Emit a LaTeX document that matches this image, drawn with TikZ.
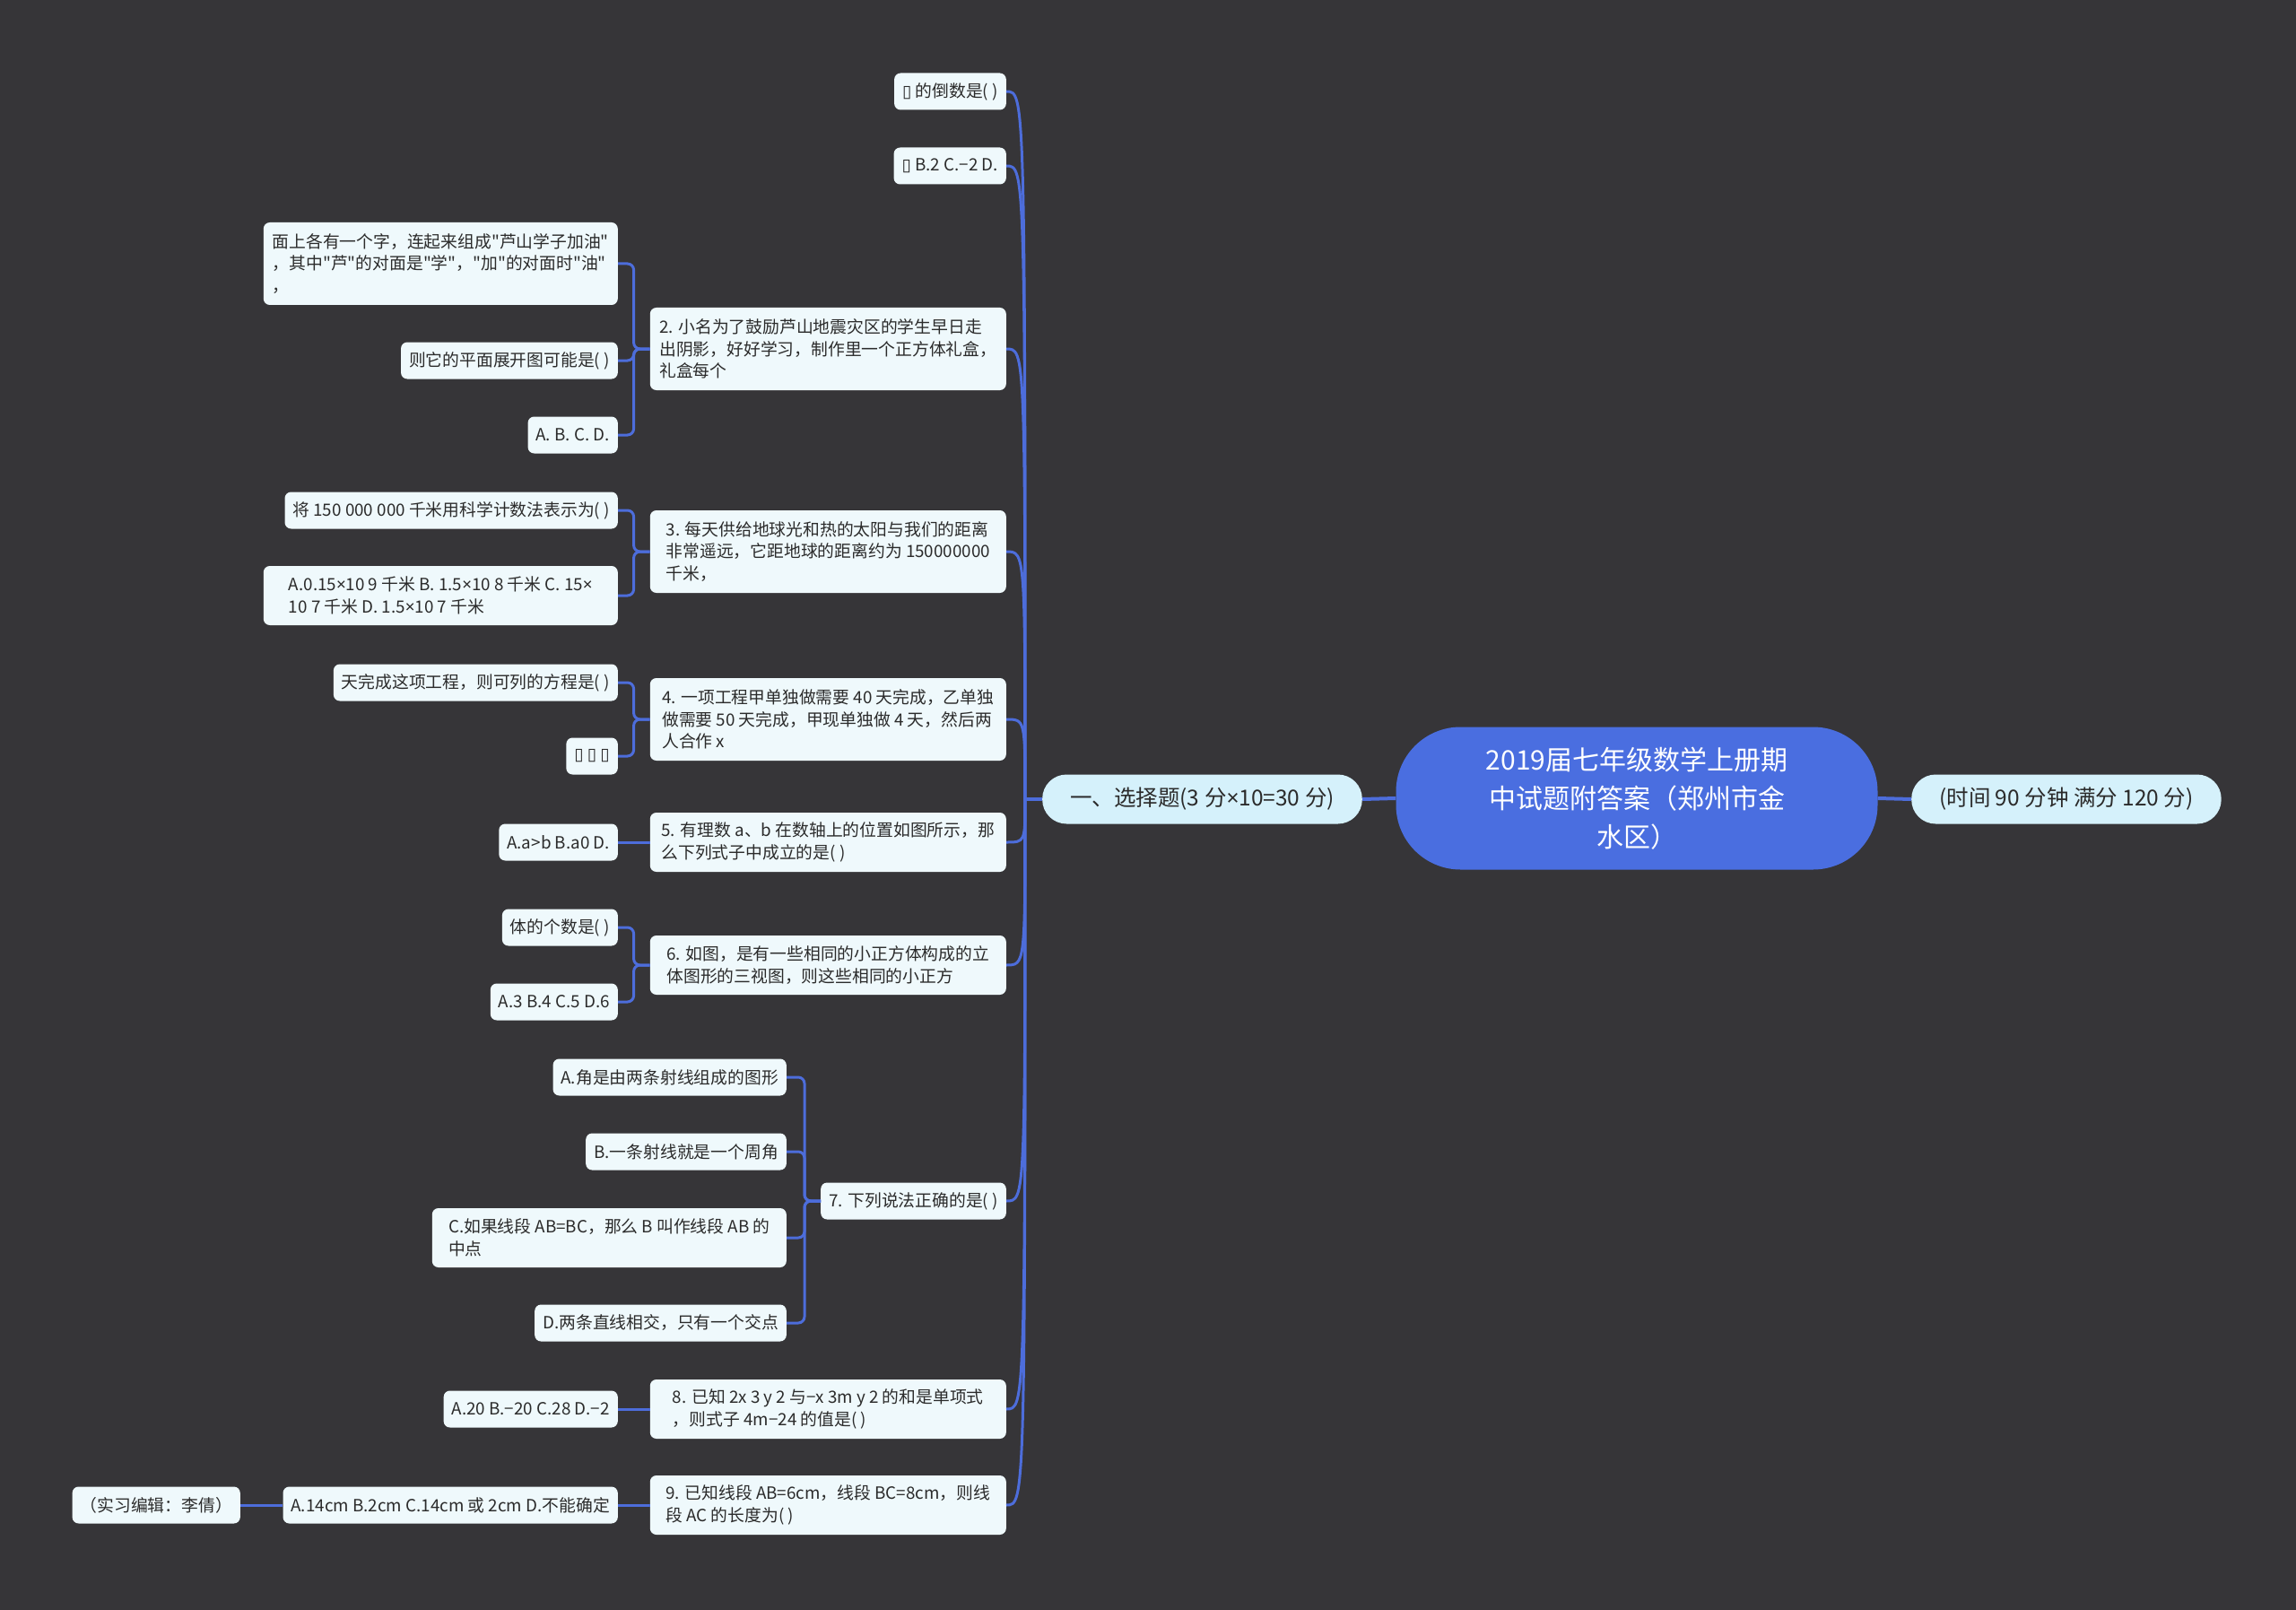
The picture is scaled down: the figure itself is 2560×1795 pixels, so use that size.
\documentclass[tikz,border=0pt]{standalone}
\usepackage{fontspec}
\newfontfamily\cjkfont{Noto Sans CJK SC}
\newfontfamily\tofufont{DejaVu Sans}
\newfontfamily\latinfont{Noto Sans}
\usepackage{tikz}
\usepackage{xcolor}
\definecolor{canvas}{HTML}{363538}
\definecolor{branch}{HTML}{4D6DDB}
\definecolor{rootblue}{HTML}{4A6EE0}
\definecolor{leaffill}{HTML}{EFF9FC}
\definecolor{topfill}{HTML}{D5F1FB}
\definecolor{leafink}{HTML}{2B2B2B}
\newcommand{\tofu}{{\tofufont ▯}}
\newcommand{\mul}{{\latinfont ×}}
\tikzset{
  rootnode/.style={fill=rootblue,text=white,rounded corners=72pt,
                   minimum width=537pt,minimum height=159pt,
                   align=center,inner sep=4pt,font=\cjkfont\fontsize{30}{43}\selectfont},
  topnode/.style={fill=topfill,text=leafink,rounded corners=27pt,
                  minimum height=55pt,inner xsep=31pt,inner ysep=2pt,
                  font=\cjkfont\fontsize{24.5}{30}\selectfont},
  leaf/.style={fill=leaffill,text=leafink,rounded corners=7pt,
               minimum height=41pt,inner xsep=9pt,inner ysep=3pt,
               align=left,font=\cjkfont\fontsize{18.8}{24.5}\selectfont},
  twoline/.style={minimum height=66pt,minimum width=397pt},
  threeline/.style={minimum height=92pt,minimum width=397pt},
  mainlink/.style={draw=branch,line width=3pt},
  sublink/.style={draw=branch,line width=3pt,rounded corners=7pt}
}

\begin{document}
\begin{tikzpicture}[x=1pt,y=-1pt]
	\fill[canvas] (0,0) rectangle (2560,1795);
	\useasboundingbox (0,0) rectangle (2560,1795);

	\node[rootnode] (root) at (1825,890) {2019届七年级数学上册期\\中试题附答案（郑州市金\\水区）};
	\node[topnode,anchor=east] (sel) at (1519,891) {一、选择题(3 分\mul10=30 分)};
	\node[topnode,anchor=west] (info) at (2131,891) {(时间 90 分钟 满分 120 分)};

	\node[leaf,anchor=east] (q1a) at (1122,102) {\tofu{} 的倒数是( )};
	\node[leaf,anchor=east] (q1b) at (1122,185) {\tofu{} B.2 C.−2 D.};
	\node[leaf,threeline,anchor=east] (q2) at (1122,389) {2. 小名为了鼓励芦山地震灾区的学生早日走\\出阴影，好好学习，制作里一个正方体礼盒，\\礼盒每个};
	\node[leaf,threeline,anchor=east] (q3) at (1122,615) {3. 每天供给地球光和热的太阳与我们的距离\\非常遥远，它距地球的距离约为 150000000\\千米，};
	\node[leaf,threeline,anchor=east] (q4) at (1122,802) {4. 一项工程甲单独做需要 40 天完成，乙单独\\做需要 50 天完成，甲现单独做 4 天，然后两\\人合作 x};
	\node[leaf,twoline,anchor=east] (q5) at (1122,939) {5. 有理数 a、b 在数轴上的位置如图所示，那\\么下列式子中成立的是( )};
	\node[leaf,twoline,anchor=east] (q6) at (1122,1076) {6. 如图，是有一些相同的小正方体构成的立\\体图形的三视图，则这些相同的小正方};
	\node[leaf,anchor=east] (q7) at (1122,1339) {7. 下列说法正确的是( )};
	\node[leaf,twoline,anchor=east] (q8) at (1122,1571) {8. 已知 2x 3 y 2 与−x 3m y 2 的和是单项式\\，则式子 4m−24 的值是( )};
	\node[leaf,twoline,anchor=east] (q9) at (1122,1678) {9. 已知线段 AB=6cm，线段 BC=8cm，则线\\段 AC 的长度为( )};

	\node[leaf,threeline,minimum width=395pt,anchor=east] (q2a) at (689,294) {面上各有一个字，连起来组成"芦山学子加油"\\，其中"芦"的对面是"学"，"加"的对面时"油"\\，};
	\node[leaf,anchor=east] (q2b) at (689,402) {则它的平面展开图可能是( )};
	\node[leaf,anchor=east] (q2c) at (689,485) {A. B. C. D.};
	\node[leaf,anchor=east] (q3a) at (689,569) {将 150 000 000 千米用科学计数法表示为( )};
	\node[leaf,twoline,minimum width=395pt,anchor=east] (q3b) at (689,664) {A.0.15\mul10 9 千米 B. 1.5\mul10 8 千米 C. 15\mul\\10 7 千米 D. 1.5\mul10 7 千米};
	\node[leaf,anchor=east] (q4a) at (689,761) {天完成这项工程，则可列的方程是( )};
	\node[leaf,anchor=east] (q4b) at (689,843) {\tofu{} \tofu{} \tofu{}};
	\node[leaf,anchor=east] (q5a) at (689,939) {A.a>b B.a0 D.};
	\node[leaf,anchor=east] (q6a) at (689,1034) {体的个数是( )};
	\node[leaf,anchor=east] (q6b) at (689,1117) {A.3 B.4 C.5 D.6};
	\node[leaf,anchor=east] (q7a) at (877,1201) {A.角是由两条射线组成的图形};
	\node[leaf,anchor=east] (q7b) at (877,1284) {B.一条射线就是一个周角};
	\node[leaf,twoline,minimum width=395pt,anchor=east] (q7c) at (877,1380) {C.如果线段 AB=BC，那么 B 叫作线段 AB 的\\中点};
	\node[leaf,anchor=east] (q7d) at (877,1475) {D.两条直线相交，只有一个交点};
	\node[leaf,anchor=east] (q8a) at (689,1571) {A.20 B.−20 C.28 D.−2};
	\node[leaf,anchor=east] (q9a) at (689,1678) {A.14cm B.2cm C.14cm 或 2cm D.不能确定};
	\node[leaf,anchor=east] (editor) at (268,1678) {（实习编辑：李倩）};

	\draw[mainlink,line width=4pt] (root.west) -- (sel.east);
	\draw[mainlink,line width=4pt] (root.east) -- (info.west);

	\coordinate (selj) at ([xshift=-19pt]sel.west);
	\foreach \q in {q1a,q1b,q2,q3,q4,q5,q6,q7,q8,q9}
		\draw[mainlink] (sel.west) -- (selj) .. controls (selj |- \q.east) .. (\q.east);

	\foreach \a/\b in {q2/q2a,q2/q2b,q2/q2c,q3/q3a,q3/q3b,q4/q4a,q4/q4b,q6/q6a,q6/q6b,q7/q7a,q7/q7b,q7/q7c,q7/q7d}
		\draw[sublink] (\a.west) -- ++(-18pt,0) |- (\b.east);
	\draw[sublink] (q5.west) -- (q5a.east);
	\draw[sublink] (q8.west) -- (q8a.east);
	\draw[sublink] (q9.west) -- (q9a.east);
	\draw[sublink] (q9a.west) -- (editor.east);
\end{tikzpicture}
\end{document}
